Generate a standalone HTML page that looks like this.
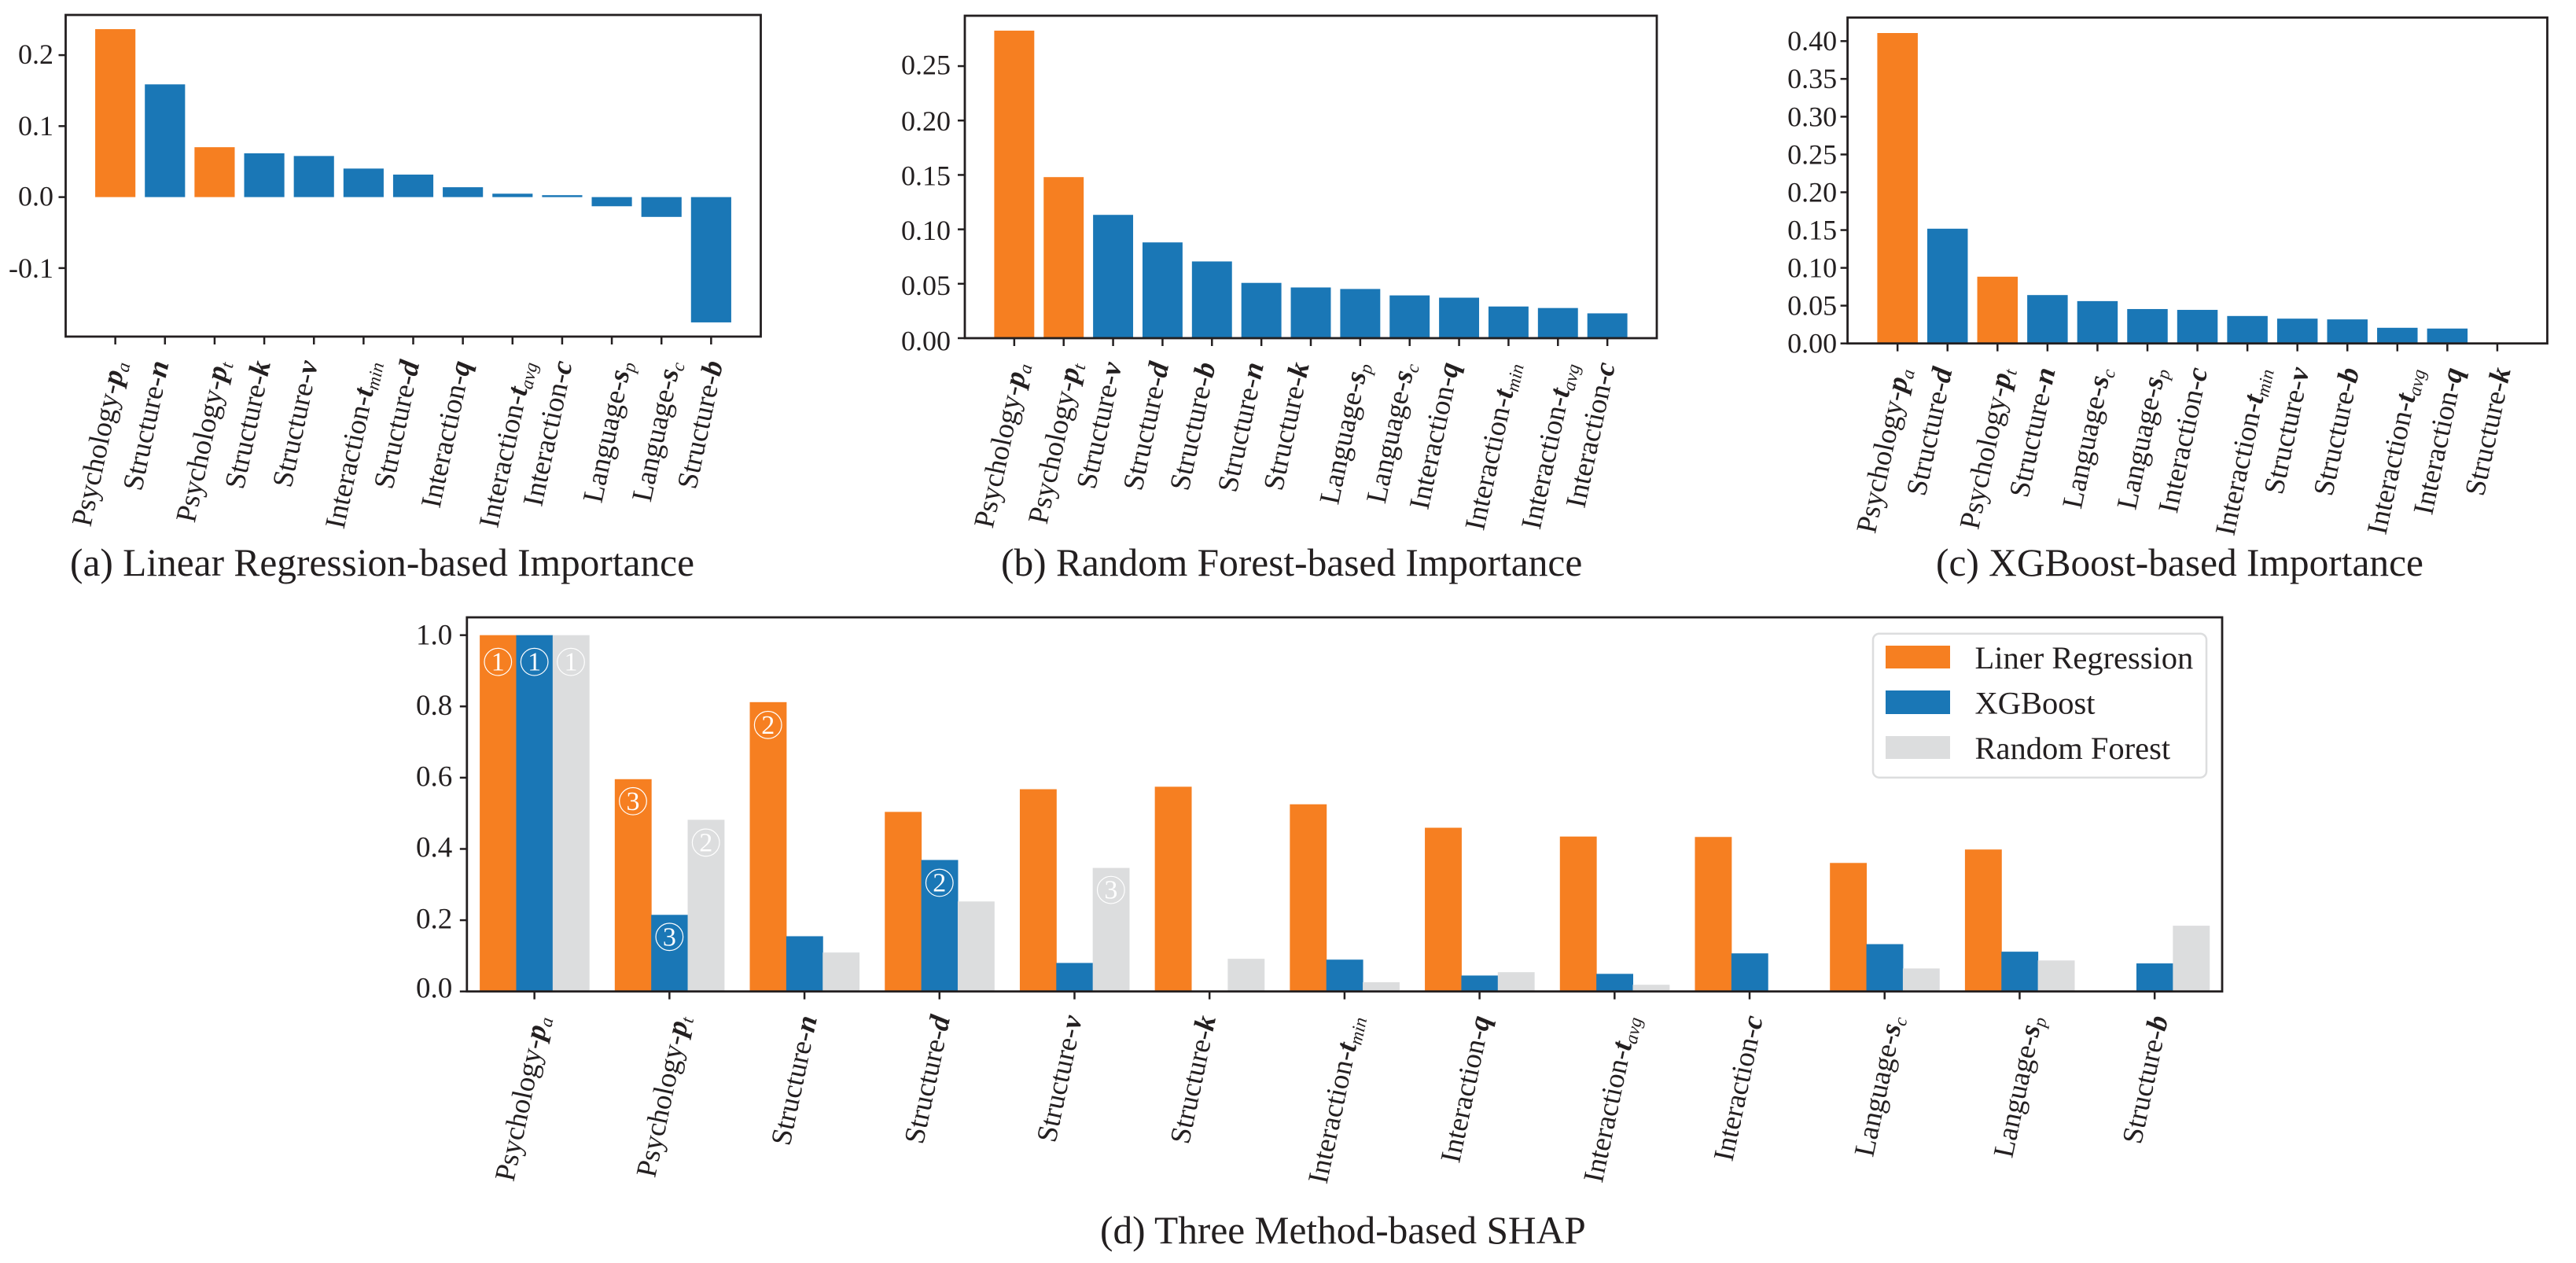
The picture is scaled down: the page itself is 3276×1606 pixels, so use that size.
<!DOCTYPE html>
<html lang="en">
<head>
<meta charset="utf-8">
<title>Feature importance comparison</title>
<style>
html,body{margin:0;padding:0;background:#fff;}
svg{display:block;}
text{font-family:"Liberation Serif",serif;fill:#231f20;}
</style>
</head>
<body>
<svg id="figure" xmlns="http://www.w3.org/2000/svg" width="3276" height="1606" viewBox="0 0 3276 1606">
  <rect x="0" y="0" width="3276" height="1606" fill="#fff"/>
  <g id="panel-a"></g>
  <g id="panel-b"></g>
  <g id="panel-c"></g>
  <g id="panel-d"></g>
  <text x="89" y="732" font-size="49.4">(a) Linear Regression-based Importance</text>
  <text x="1273" y="732" font-size="49.4">(b) Random Forest-based Importance</text>
  <text x="2462" y="732" font-size="49.4">(c) XGBoost-based Importance</text>
  <text x="1399" y="1581" font-size="49.4">(d) Three Method-based SHAP</text>
  <g>
    <rect x="2382" y="805.7" width="424" height="183" rx="8" ry="8" fill="#fff" stroke="#dcddde" stroke-width="2.5"/>
    <rect x="2398" y="821" width="82" height="29" fill="#f67f21"/>
    <text x="2511.5" y="850" font-size="40.5">Liner Regression</text>
    <rect x="2398" y="878" width="82" height="30" fill="#1a77b6"/>
    <text x="2511.5" y="907.7" font-size="40.5">XGBoost</text>
    <rect x="2398" y="936" width="82" height="29" fill="#dcddde"/>
    <text x="2511.5" y="965" font-size="40.5">Random Forest</text>
  </g>
</svg>
<script>
/* ---------- chart data ---------- */
const linearCategories = ["Psychology-p_a","Structure-n","Psychology-p_t","Structure-k","Structure-v","Interaction-t_min","Structure-d","Interaction-q","Interaction-t_avg","Interaction-c","Language-s_p","Language-s_c","Structure-b"];
const linearValues = [0.2366,0.1588,0.0703,0.0617,0.0579,0.0402,0.0317,0.0139,0.0048,0.0027,-0.0129,-0.0279,-0.1765];
const linearTickLabels = ["0.2","0.1","0.0","-0.1"];
const linearTickValues = [0.2,0.1,0,-0.1];

const forestCategories = ["Psychology-p_a","Psychology-p_t","Structure-v","Structure-d","Structure-b","Structure-n","Structure-k","Language-s_p","Language-s_c","Interaction-q","Interaction-t_min","Interaction-t_avg","Interaction-c"];
const forestValues = [0.2826,0.148,0.1133,0.088,0.0705,0.0508,0.0466,0.0452,0.0393,0.0372,0.0291,0.0277,0.0228];
const forestTickLabels = ["0.00","0.05","0.10","0.15","0.20","0.25"];
const forestTickValues = [0,0.05,0.1,0.15,0.2,0.25];

const boostCategories = ["Psychology-p_a","Structure-d","Psychology-p_t","Structure-n","Language-s_c","Language-s_p","Interaction-c","Interaction-t_min","Structure-v","Structure-b","Interaction-t_avg","Interaction-q","Structure-k"];
const boostValues = [0.4107,0.1518,0.0883,0.064,0.056,0.0455,0.0444,0.0363,0.0328,0.0318,0.0207,0.0197,0];
const boostTickLabels = ["0.00","0.05","0.10","0.15","0.20","0.25","0.30","0.35","0.40"];
const boostTickValues = [0,0.05,0.1,0.15,0.2,0.25,0.3,0.35,0.4];

const shapCategories = ["Psychology-p_a","Psychology-p_t","Structure-n","Structure-d","Structure-v","Structure-k","Interaction-t_min","Interaction-q","Interaction-t_avg","Interaction-c","Language-s_c","Language-s_p","Structure-b"];
const shapLinear = [1,0.5958,0.812,0.504,0.5676,0.5746,0.5253,0.4595,0.4348,0.4336,0.3607,0.3984,0];
const shapBoost = [1,0.215,0.155,0.369,0.08,0.001,0.0893,0.0447,0.0494,0.1069,0.1328,0.1116,0.0787];
const shapForest = [1,0.4818,0.1093,0.2526,0.3467,0.0917,0.0259,0.0541,0.0188,0,0.0646,0.087,0.1845];
const shapTickLabels = ["0.0","0.2","0.4","0.6","0.8","1.0"];
const shapTickValues = [0,0.2,0.4,0.6,0.8,1];
const shapLinearRanks = [1,3,2,0,0,0,0,0,0,0,0,0,0];
const shapBoostRanks = [1,3,0,2,0,0,0,0,0,0,0,0,0];
const shapForestRanks = [1,2,0,0,3,0,0,0,0,0,0,0,0];

/* ---------- layout ---------- */
const ORANGE = "#f67f21", BLUE = "#1a77b6", GREY = "#dcddde", INK = "#231f20";
const SVGNS = "http://www.w3.org/2000/svg";
const ROT = -78;
const LABEL_FONT = 36.8;

const nudgeA = [18,5,23,8,5,25,8,17,31,13,30,29,15];
const nudgeB = [22,27,11,8,4.5,3,-2,15,11.5,7,18.5,27,10];
const nudgeC = [21,6,24,10,22,28,13,33,15,15,35,27,17];
const nudgeD = [23,30,16,13.4,9.6,8,27.5,20.6,34,17,28,33.6,17];
const yLabelShiftA = [-1,0,-1,0];
const yLabelShiftB = [3.4,2.4,1.5,1,1,-1.5];
const yLabelShiftC = [0,0,0,0,0,0,0,0,0];
const yLabelShiftD = [-4.3,-2,-2,-1.6,-1.6,-0.5];

function el(tag, parent, attrs){
  const n = document.createElementNS(SVGNS, tag);
  for (const k in attrs) n.setAttribute(k, attrs[k]);
  parent.appendChild(n);
  return n;
}
function slug(s){ return s.toLowerCase().replace(/[^a-z0-9]+/g, "-"); }

function makeAxes(p){
  const xScale = v => p.left + (v - p.xMin) / (p.xMax - p.xMin) * (p.right - p.left);
  const yScale = v => p.bottom - (v - p.yMin) / (p.yMax - p.yMin) * (p.bottom - p.top);
  return {xScale, yScale};
}

function drawFrame(p, g){
  const frame = el("rect", g, {x:p.left, y:p.top, width:p.right-p.left, height:p.bottom-p.top, fill:"none", stroke:INK, "stroke-width":2.8});
  
  
}

function drawYAxis(p, g, yScale, values, labels, shift){
  values.forEach((v,i)=>{
    const y = yScale(v);
    const tick = el("line", g, {x1:p.left-9, x2:p.left, y1:y, y2:y, stroke:INK, "stroke-width":2.5});
    
    
    const t = el("text", g, {x:p.left-p.labelGap, y:y+p.tickFont*0.33+shift[i], "text-anchor":"end", "font-size":p.tickFont});
    t.textContent = labels[i];
    
    
  });
}

function drawXAxis(p, g, xScale, cats, nudge){
  cats.forEach((c,i)=>{
    const x = xScale(i);
    const tick = el("line", g, {x1:x, x2:x, y1:p.bottom, y2:p.bottom+10, stroke:INK, "stroke-width":2.5});
    
    

    const m = c.match(/^(.*-)(\w)(?:_(\w+))?$/);
    const hasSub = !!m[3];
    const descends = m[2] === "q";
    const ax = x + nudge[i] - (hasSub ? 5 : 0) - (descends ? 7 : 0);
    const ay = p.bottom + 33.5;
    const t = el("text", g, {x:0, y:0, "text-anchor":"end", "font-size":LABEL_FONT, transform:"translate("+ax+" "+ay+") rotate("+ROT+")"});
    
    
    const a = el("tspan", t, {});
    a.textContent = m[1];
    const b = el("tspan", t, {"font-weight":"bold","font-style":"italic"});
    b.textContent = m[2];
    if (hasSub){
      const s = el("tspan", t, {"font-style":"italic","font-size":23.5,dy:6});
      s.textContent = m[3];
    }
  });
}

function drawSingleBars(p, g, axes, cats, values){
  const {xScale, yScale} = axes;
  const step = xScale(1) - xScale(0);
  const w = step * 0.81;
  const zero = yScale(0);
  values.forEach((v,i)=>{
    const y = yScale(v);
    const r = el("rect", g, {
      x:xScale(i)-w/2, y:Math.min(y,zero), width:w, height:Math.abs(zero-y),
      fill: cats[i].indexOf("Psychology")===0 ? ORANGE : BLUE
    });
    
    
  });
}

function drawSinglePanel(id, p, cats, values, tickVals, tickLabels, nudge, shift){
  const g = document.getElementById(id);
  const axes = makeAxes(p);
  drawSingleBars(p, g, axes, cats, values);
  drawFrame(p, g);
  drawYAxis(p, g, axes.yScale, tickVals, tickLabels, shift);
  drawXAxis(p, g, axes.xScale, cats, nudge);
}

drawSinglePanel("panel-a",
  {left:83.5,right:967.5,top:19,bottom:428,xMin:-1,xMax:13,yMin:-0.1965,yMax:0.2566,tickFont:36,labelGap:15.5},
  linearCategories, linearValues, linearTickValues, linearTickLabels, nudgeA, yLabelShiftA);
drawSinglePanel("panel-b",
  {left:1227,right:2107,top:20,bottom:430,xMin:-1,xMax:13,yMin:0,yMax:0.2963,tickFont:36,labelGap:18},
  forestCategories, forestValues, forestTickValues, forestTickLabels, nudgeB, yLabelShiftB);
drawSinglePanel("panel-c",
  {left:2349.6,right:3239.5,top:22.3,bottom:436.7,xMin:-1,xMax:13,yMin:0,yMax:0.4312,tickFont:36,labelGap:13.5},
  boostCategories, boostValues, boostTickValues, boostTickLabels, nudgeC, yLabelShiftC);

/* grouped SHAP panel */
(function(){
  const p = {left:593.8,right:2826,top:785,bottom:1260.7,xMin:-0.5,xMax:12.5,yMin:0,yMax:1.05,tickFont:37,labelGap:18.5};
  const g = document.getElementById("panel-d");
  const {xScale, yScale} = makeAxes(p);
  const step = xScale(1) - xScale(0);
  const w = step * 0.27;
  const series = [
    {name:"linear-regression", values:shapLinear, ranks:shapLinearRanks, color:ORANGE, off:-1},
    {name:"xgboost", values:shapBoost, ranks:shapBoostRanks, color:BLUE, off:0},
    {name:"random-forest", values:shapForest, ranks:shapForestRanks, color:GREY, off:1}
  ];
  const badgeDrop = [34,29,28];
  series.forEach(s=>{
    s.values.forEach((v,i)=>{
      const cx = xScale(i) + s.off*w;
      const y = yScale(v);
      const r = el("rect", g, {x:cx-w/2, y:y, width:w+0.5, height:yScale(0)-y, fill:s.color});
      
      
    });
  });
  series.forEach(s=>{
    s.ranks.forEach((rank,i)=>{
      if (!rank) return;
      const cx = xScale(i) + s.off*w;
      const cy = yScale(s.values[i]) + badgeDrop[rank-1];
      const c = el("circle", g, {cx:cx, cy:cy, r:17.3, fill:"none", stroke:"#fff", "stroke-width":1.2});
      
      
      const t = el("text", g, {x:cx, y:cy+11, "text-anchor":"middle", "font-size":34, style:"fill:#fff"});
      t.textContent = String(rank);
      
      
    });
  });
  drawFrame(p, g);
  drawYAxis(p, g, yScale, shapTickValues, shapTickLabels, yLabelShiftD);
  drawXAxis(p, g, xScale, shapCategories, nudgeD);
})();
</script>
</body>
</html>
